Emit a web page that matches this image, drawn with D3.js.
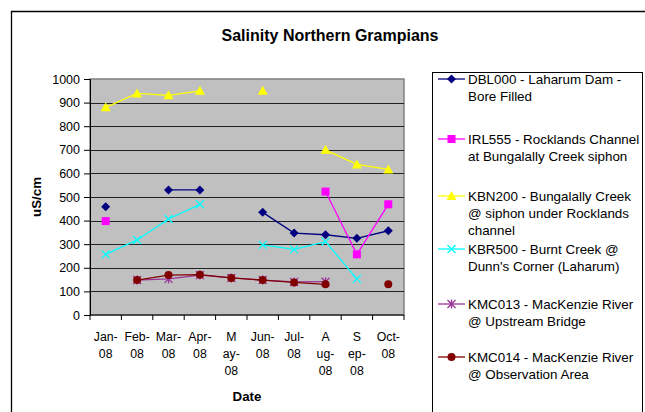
<!DOCTYPE html>
<html><head><meta charset="utf-8">
<script src="https://cdn.jsdelivr.net/npm/d3@7"></script>
<style>body{margin:0;background:#fff}svg{display:block;font-family:"Liberation Sans",Arial,sans-serif}</style>
</head><body><svg id="c" width="645" height="412"></svg>
<script>
const months = ["Jan-08","Feb-08","Mar-08","Apr-08","May-08","Jun-08","Jul-08","Aug-08","Sep-08","Oct-08"];
const monthLabels = [["Jan-","08"],["Feb-","08"],["Mar-","08"],["Apr-","08"],["M","ay-","08"],["Jun-","08"],["Jul-","08"],["A","ug-","08"],["S","ep-","08"],["Oct-","08"]];
const yTicks = [0,100,200,300,400,500,600,700,800,900,1000];
const DBL000 = [459,null,530,530,null,435,347,340,325,357];
const IRL555 = [398,null,null,null,null,null,null,523,257,469];
const KBN200 = [880,939,931,950,null,950,null,700,638,617];
const KBR500 = [257,318,407,469,null,297,278,311,153,null];
const KMC013 = [null,148,153,169,157,148,140,141,null,null];
const KMC014 = [null,148,169,171,157,148,138,130,null,130];
const seriesNames = [
  ["DBL000 - Laharum Dam -","Bore Filled"],
  ["IRL555 - Rocklands Channel","at Bungalally Creek siphon"],
  ["KBN200 - Bungalally Creek","@ siphon under Rocklands","channel"],
  ["KBR500 - Burnt Creek @","Dunn's Corner (Laharum)"],
  ["KMC013 - MacKenzie River","@ Upstream Bridge"],
  ["KMC014 - MacKenzie River","@ Observation Area"]
];
const series = [
  {vals:DBL000,color:"#000080",marker:"diamond"},
  {vals:IRL555,color:"#ff00ff",marker:"square"},
  {vals:KBN200,color:"#ffff00",marker:"triangle"},
  {vals:KBR500,color:"#00ffff",marker:"x"},
  {vals:KMC013,color:"#993399",marker:"star"},
  {vals:KMC014,color:"#800000",marker:"circle"}
];
const drawOrder = [0,1,2,3,4,5];

const svg = d3.select("#c");
svg.append("path").attr("d","M11.5,420 L11.5,11.5 L660,11.5").attr("fill","none").attr("stroke","#000").attr("stroke-width",1.3);

const L=90,R=404,T=79,B=315;
const x = d3.scaleBand().domain(months).range([L,R]);
const y = d3.scaleLinear().domain([0,1000]).range([B,T]);

svg.append("rect").attr("x",L).attr("y",T).attr("width",R-L).attr("height",B-T).attr("fill","#c0c0c0").attr("stroke","#808080").attr("stroke-width",1.5);
svg.append("g").selectAll("line").data(yTicks.filter(d=>d>0&&d<1000)).join("line")
  .attr("x1",L).attr("x2",R).attr("y1",d=>Math.round(y(d))+0.5).attr("y2",d=>Math.round(y(d))+0.5).attr("stroke","#222").attr("stroke-width",1);

const yAxis = d3.axisLeft(y).tickValues(yTicks).tickFormat(d3.format("d")).tickSize(6).tickPadding(4);
const gy = svg.append("g").attr("transform",`translate(${L},0)`).call(yAxis);
gy.select(".domain").attr("stroke","#000");
gy.selectAll("text").attr("font-size",12.5).attr("fill","#000").attr("font-family","Liberation Sans, Arial, sans-serif");
gy.selectAll("line").attr("stroke","#000");

const gx = svg.append("g").attr("transform",`translate(0,${B})`);
gx.append("line").attr("x1",L).attr("x2",R).attr("stroke","#000");
gx.selectAll("line.t").data(d3.range(months.length+1)).join("line").attr("class","t")
  .attr("x1",i=>L+i*x.step()).attr("x2",i=>L+i*x.step()).attr("y1",0).attr("y2",5).attr("stroke","#000");
gx.selectAll("text").data(months).join("text")
  .attr("text-anchor","middle").attr("font-size",12.3)
  .each(function(d,i){
    const t=d3.select(this);
    monthLabels[i].forEach((s,j)=>t.append("tspan").attr("x",x(d)+x.bandwidth()/2).attr("y",26+j*17).text(s));
  });

svg.append("text").attr("x",330).attr("y",41).attr("text-anchor","middle").attr("font-weight","bold").attr("font-size",16).text("Salinity Northern Grampians");
svg.append("text").attr("x",247).attr("y",401).attr("text-anchor","middle").attr("font-weight","bold").attr("font-size",13.3).text("Date");
svg.append("text").attr("transform","translate(41,197) rotate(-90)").attr("text-anchor","middle").attr("font-weight","bold").attr("font-size",13.3).text("uS/cm");

function marker(g, type, color, cx, cy){
  if(type==="diamond") g.append("path").attr("d",`M${cx},${cy-4.5}L${cx+4.5},${cy}L${cx},${cy+4.5}L${cx-4.5},${cy}Z`).attr("fill",color);
  else if(type==="square") g.append("rect").attr("x",cx-4).attr("y",cy-4).attr("width",8).attr("height",8).attr("fill",color);
  else if(type==="triangle") g.append("path").attr("d",`M${cx},${cy-5}L${cx+5},${cy+4}L${cx-5},${cy+4}Z`).attr("fill",color);
  else if(type==="circle") g.append("circle").attr("cx",cx).attr("cy",cy).attr("r",4).attr("fill",color);
  else if(type==="x") g.append("path").attr("d",`M${cx-4},${cy-4}L${cx+4},${cy+4}M${cx-4},${cy+4}L${cx+4},${cy-4}`).attr("stroke",color).attr("stroke-width",1.3);
  else if(type==="star") g.append("path").attr("d",`M${cx-4},${cy-4}L${cx+4},${cy+4}M${cx-4},${cy+4}L${cx+4},${cy-4}M${cx},${cy-4.5}L${cx},${cy+4.5}`).attr("stroke",color).attr("stroke-width",1.3);
}

const line = d3.line().defined(d=>d.v!=null).x(d=>x(d.m)+x.bandwidth()/2).y(d=>y(d.v));
drawOrder.forEach(si=>{
  const s=series[si];
  const data=s.vals.map((v,i)=>({m:months[i],v}));
  const g=svg.append("g");
  g.append("path").attr("d",line(data)).attr("fill","none").attr("stroke",s.color).attr("stroke-width",1.3);
  data.filter(d=>d.v!=null).forEach(d=>marker(g,s.marker,s.color,x(d.m)+x.bandwidth()/2,y(d.v)));
});

svg.append("rect").attr("x",432.5).attr("y",72.5).attr("width",210).attr("height",350).attr("fill","#fff").attr("stroke","#000").attr("stroke-width",1);
const legY=[79,139,196,249,304,357];
series.forEach((s,i)=>{
  const g=svg.append("g");
  g.append("line").attr("x1",438).attr("x2",465).attr("y1",legY[i]).attr("y2",legY[i]).attr("stroke",s.color).attr("stroke-width",1.3);
  marker(g,s.marker,s.color,451.5,legY[i]);
  const t=g.append("text").attr("font-size",13.4);
  seriesNames[i].forEach((ln,j)=>t.append("tspan").attr("x",468).attr("y",legY[i]+5+j*17).text(ln));
});
</script></body></html>
